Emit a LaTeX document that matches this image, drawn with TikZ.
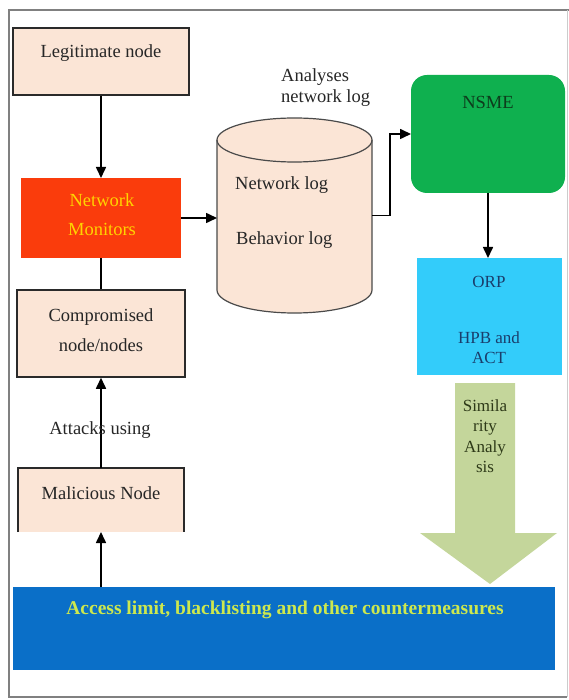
\documentclass[tikz,border=0pt]{standalone}
\usepackage{fontspec}
\setmainfont{Liberation Serif}
\usetikzlibrary{arrows.meta}
\definecolor{peach}{HTML}{FBE5D6}
\definecolor{nmred}{HTML}{FA3C0C}
\definecolor{nmtext}{HTML}{FFD400}
\definecolor{nsmegreen}{HTML}{0FB04F}
\definecolor{nsmetext}{HTML}{0D3D1C}
\definecolor{orpcyan}{HTML}{33CCFA}
\definecolor{orptext}{HTML}{1A3D6B}
\definecolor{olive}{HTML}{C4D69B}
\definecolor{olivetext}{HTML}{2E3A18}
\definecolor{barblue}{HTML}{0A6FC8}
\definecolor{bartext}{HTML}{CDE84E}
\definecolor{boxline}{HTML}{2A2A2A}
\definecolor{framec}{HTML}{808080}
\begin{document}
\begin{tikzpicture}[x=1pt,y=-1pt,
  font=\fontsize{18.5}{21}\selectfont,
  boxst/.style={draw=boxline, line width=1.5pt, fill=peach, inner sep=0pt},
  plain/.style={inner sep=0pt, outer sep=0pt},
  conn/.style={draw=black, line width=1.6pt},
  arr/.style={conn, -{Triangle[length=11pt,width=10pt]}},
  txt/.style={inner sep=0pt, align=center, text=black!85}]
\useasboundingbox (0,0) rectangle (569,700);
% frame
\draw[framec, line width=1.5pt] (569,10) -- (9,10) -- (9,697) -- (567,697);
\draw[framec!40, line width=1pt] (567,10) -- (567,697);

% left column boxes
\node[boxst, minimum width=176pt, minimum height=67pt] (legit) at (101,61.5) {};
\node[txt] (legitt) at (101,53) {Legitimate node};
\node[plain, fill=nmred, minimum width=160pt, minimum height=80pt] (nm) at (101,218) {};
\node[txt, text=nmtext] (nmt) at (102,215) {Network\\[8pt]Monitors};
\node[boxst, minimum width=168pt, minimum height=87pt] (comp) at (101,333.5) {};
\node[txt] (compt) at (101,330.5) {Compromised\\[9pt]node/nodes};
\node[plain, fill=peach, minimum width=166pt, minimum height=64pt] (mal) at (101,500) {};
\draw[boxline, line width=1.5pt] (mal.south west) -- (mal.north west) -- (mal.north east) -- (mal.south east);
\node[txt] (malt) at (101,493) {Malicious Node};

% cylinder
\node[plain, minimum width=155pt, minimum height=195pt] (cyl) at (294.5,215.5) {};
\fill[peach] (217,140) -- (217,290) arc[start angle=180, end angle=360, x radius=77.5pt, y radius=23pt]
  -- (372,140) arc[start angle=0, end angle=180, x radius=77.5pt, y radius=22pt] -- cycle;
\draw[boxline!85, line width=1.2pt] (217,140) -- (217,290) arc[start angle=180, end angle=360, x radius=77.5pt, y radius=23pt] -- (372,140);
\draw[boxline!85, line width=1.2pt] (294.5,140) ellipse[x radius=77.5pt, y radius=22pt];
\node[txt, anchor=west] (netlog) at (235,185) {Network log};
\node[txt, anchor=west] (behlog) at (236,240) {Behavior log};
\node[txt, anchor=west, align=left] (ana) at (281,87.5) {Analyses\\network log};

% right column
\node[plain, fill=nsmegreen, rounded corners=16pt, minimum width=154pt, minimum height=118pt] (nsme) at (488,134) {};
\node[txt, text=nsmetext] (nsmet) at (488,102) {NSME};
\node[plain, fill=orpcyan, minimum width=145pt, minimum height=117pt] (orp) at (489.5,316.5) {};
\node[txt, text=orptext, font=\fontsize{17}{20}\selectfont] (orpt) at (489,282) {ORP};
\node[txt, text=orptext, font=\fontsize{17}{20}\selectfont] (hpbt) at (489,348) {HPB and\\ACT};

% big arrow
\fill[olive] (455,383) -- (515,383) -- (515,533) -- (557,533) -- (490,584) -- (420,533) -- (455,533) -- cycle;
\coordinate (simtip) at (490,584);
\node[txt, text=olivetext, font=\fontsize{17}{20.5}\selectfont] (simt) at (485,436) {Simila\\rity\\Analy\\sis};

% bottom bar
\node[plain, fill=barblue, minimum width=542pt, minimum height=83pt] (bar) at (284,628.5) {};
\node[txt, text=bartext, font=\fontsize{19.5}{22}\selectfont\bfseries] (bart) at (285,610) {Access limit, blacklisting and other countermeasures};

% connectors
\draw[arr] (legit.south) -- (legit.south |- nm.north);
\draw[conn] (nm.south) -- (nm.south |- comp.north);
\draw[arr] (mal.north -| comp.south) -- (comp.south);
\node[txt] (attk) at (100,430) {Attacks using};
\draw[arr] (bar.north -| mal.south) -- (mal.south);
\draw[arr] (nm.east) -- (nm.east -| cyl.west);
\draw[arr] (cyl.east) -- ++(18,0) |- (nsme.west);
\draw[arr] (nsme.south) -- (nsme.south |- orp.north);
\end{tikzpicture}
\end{document}
